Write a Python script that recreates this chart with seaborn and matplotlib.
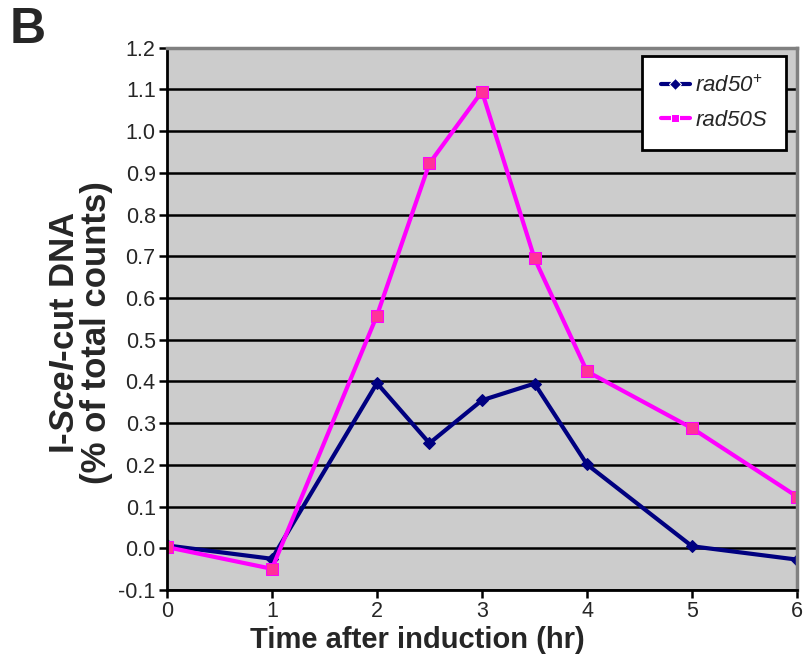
import pandas as pd
import seaborn as sns
import matplotlib.pyplot as plt

# time points (hr) and % of total counts
time_hr = [0, 1, 2, 2.5, 3, 3.5, 4, 5, 6]
rad50_plus = [0.007, -0.025, 0.396, 0.252, 0.355, 0.395, 0.201, 0.005, -0.027]
rad50_s = [0.003, -0.049, 0.558, 0.923, 1.095, 0.695, 0.424, 0.288, 0.124]

series_names = ['rad50$^{+}$', 'rad50S']
y_ticks = [-0.1, 0.0, 0.1, 0.2, 0.3, 0.4, 0.5, 0.6, 0.7, 0.8, 0.9, 1.0, 1.1, 1.2]
x_ticks = [0, 1, 2, 3, 4, 5, 6]

df = pd.DataFrame({
    'time': time_hr * 2,
    'value': rad50_plus + rad50_s,
    'strain': [series_names[0]] * len(time_hr) + [series_names[1]] * len(time_hr),
})

sns.set_style('white')
plt.rcParams['font.family'] = ['Liberation Sans', 'DejaVu Sans']
plt.rcParams['mathtext.fontset'] = 'custom'
plt.rcParams['mathtext.rm'] = 'Liberation Sans'
plt.rcParams['mathtext.it'] = 'Liberation Sans:italic'
plt.rcParams['mathtext.bf'] = 'Liberation Sans:bold'
plt.rcParams['mathtext.bfit'] = 'Liberation Sans:bold:italic'

fig = plt.figure(figsize=(8.06, 6.63), dpi=100)
ax = fig.add_axes([0.207, 0.110, 0.782, 0.818])
ax.set_facecolor('#cccccc')

palette = {series_names[0]: '#000080', series_names[1]: '#ff00ff'}
sns.lineplot(data=df, x='time', y='value', hue='strain', style='strain',
             palette=palette, markers={series_names[0]: 'D', series_names[1]: 's'},
             dashes=False, linewidth=3, ax=ax, legend=True)

# marker faces like the original
for line, face, edge, ms in zip(ax.lines[:2], ['#000080', '#ff3399'],
                                ['#000080', '#ff00ff'], [6, 8]):
    line.set_markerfacecolor(face)
    line.set_markeredgecolor(edge)
    line.set_markersize(ms)

ax.set_xlim(0, 6)
ax.set_ylim(-0.1, 1.2)
ax.set_xticks(x_ticks)
ax.set_yticks(y_ticks)
ax.set_yticklabels([f'{v:.1f}' for v in y_ticks])
ax.yaxis.grid(True, color='black', linewidth=1.8)
ax.xaxis.grid(False)
ax.set_axisbelow(True)

ax.tick_params(axis='both', direction='out', length=6, width=1.8, color='black',
               labelsize=15.5, left=True, bottom=True, pad=2)
for side in ['left', 'bottom']:
    ax.spines[side].set_color('black')
    ax.spines[side].set_linewidth(2)
for side in ['top', 'right']:
    ax.spines[side].set_color('#808080')
    ax.spines[side].set_linewidth(2.5)

ax.set_xlabel('Time after induction (hr)', fontsize=21, fontweight='bold')
ax.xaxis.set_label_coords(0.397, -0.067)
ax.set_ylabel('I-$\\mathbfit{SceI}$-cut DNA\n(% of total counts)', fontsize=25,
              fontweight='bold', linespacing=0.95)
ax.yaxis.set_label_coords(-0.086, 0.474)

leg = ax.legend(loc='upper right', bbox_to_anchor=(0.982, 0.984),
                prop={'size': 16, 'style': 'italic'},
                frameon=True, fancybox=False, framealpha=1, edgecolor='black',
                handlelength=1.3, borderpad=0.85, labelspacing=0.6, handletextpad=0.25,
                borderaxespad=0)
leg.get_frame().set_linewidth(2)
leg.get_frame().set_facecolor('white')

fig.text(0.012, 0.935, 'B', fontsize=36, fontweight='bold')

fig.savefig('out.png', dpi=100)
